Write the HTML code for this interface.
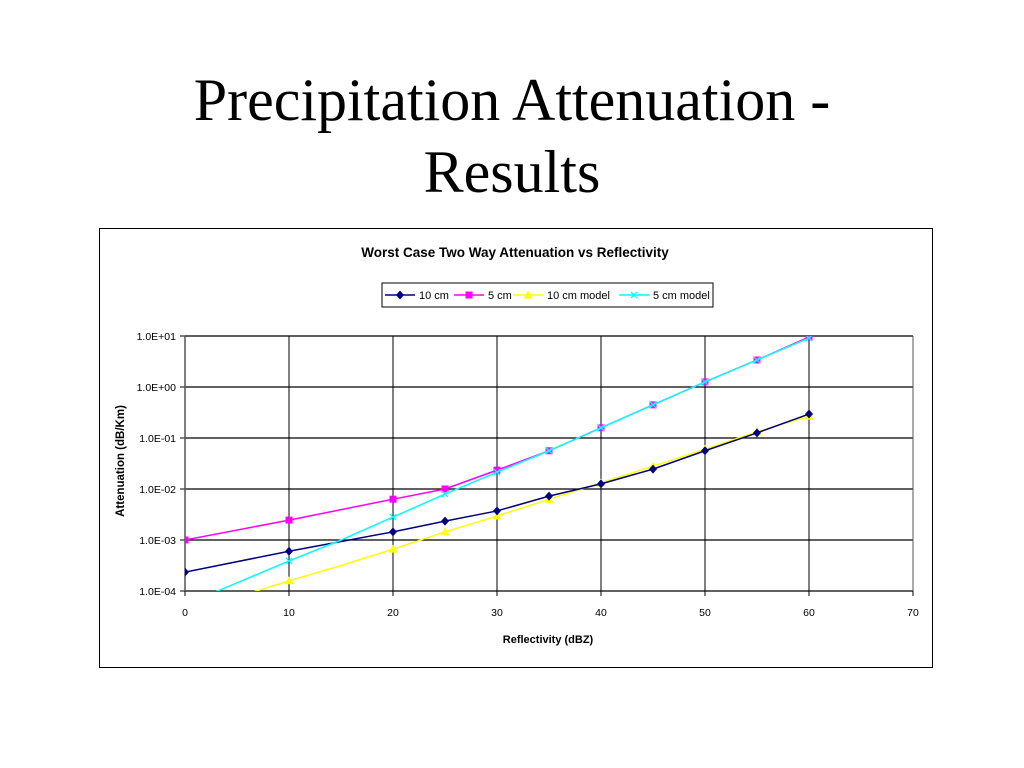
<!DOCTYPE html>
<html><head><meta charset="utf-8"><style>
body{margin:0;width:1024px;height:768px;background:#fff;overflow:hidden;font-family:"Liberation Sans",sans-serif}
#title{position:absolute;left:0;width:1024px;top:64px;text-align:center;font-family:"Liberation Serif",serif;font-size:60px;line-height:72px}
#box{position:absolute;left:99px;top:228px;width:832px;height:438px;border:1px solid #000}
</style></head><body>
<div id="title">Precipitation Attenuation -<br>Results</div>
<div id="box"></div>
<svg id="c" width="1024" height="768" style="position:absolute;left:0;top:0">
<defs><clipPath id="clip"><rect x="185" y="336" width="728" height="255"/></clipPath></defs>
</svg>
<script>
const xVals=[0,10,20,25,30,35,40,45,50,55,60];
const cm10=[-3.63,-3.22,-2.84,-2.63,-2.43,-2.14,-1.90,-1.61,-1.25,-0.90,-0.53];
const cm5=[-3.0,-2.61,-2.20,-2.0,-1.63,-1.25,-0.80,-0.35,0.10,0.53,0.98];
const modelX=[0,5,10,15,20,25,30,35,40,45,50,55,60];
const model10=[-4.44,-4.12,-3.80,-3.50,-3.18,-2.84,-2.53,-2.20,-1.88,-1.55,-1.22,-0.88,-0.57];
const model5=[-4.27,-3.84,-3.41,-3.0,-2.55,-2.10,-1.67,-1.25,-0.80,-0.35,0.10,0.53,0.96];
const xTicks=[0,10,20,30,40,50,60,70];
const yTicks=[1,0,-1,-2,-3,-4];
const yLabels=["1.0E+01","1.0E+00","1.0E-01","1.0E-02","1.0E-03","1.0E-04"];
const NS="http://www.w3.org/2000/svg",svg=document.getElementById('c');
const X=v=>185+v*(728/70), Y=v=>336+(1-v)*51;
function el(t,a,p){const e=document.createElementNS(NS,t);for(const k in a)e.setAttribute(k,a[k]);(p||svg).appendChild(e);return e;}
function tx(s,x,y,sz,anch,w){const e=el('text',{x:x,y:y,'font-size':sz,'text-anchor':anch||'middle','font-family':'Liberation Sans, sans-serif','font-weight':w||'normal'});e.textContent=s;return e;}
let t=tx("Worst Case Two Way Attenuation vs Reflectivity",515,257,13.5,'middle','bold');

yTicks.forEach((v,i)=>{const g=el('line',{x1:185,x2:913,y1:Y(v),y2:Y(v),stroke:'#000','stroke-width':1.3});

el('line',{x1:180,x2:185,y1:Y(v),y2:Y(v),stroke:'#000'});
const l=tx(yLabels[i],176,Y(v)+4,10.5,'end');});
xTicks.forEach(v=>{if(v>0){const g=el('line',{x1:X(v),x2:X(v),y1:336,y2:591,stroke:'#000','stroke-width':1});
}
el('line',{x1:X(v),x2:X(v),y1:591,y2:596,stroke:'#000'});
const l=tx(String(v),X(v),616,10.5);});
el('line',{x1:185,x2:185,y1:336,y2:591,stroke:'#555','stroke-width':1.5});
el('line',{x1:913,x2:913,y1:336,y2:591,stroke:'#555','stroke-width':1});
let xt=tx("Reflectivity (dBZ)",548,643,11,'middle','bold');
let yt=tx("Attenuation (dB/Km)",0,0,11.5,'middle','bold');yt.setAttribute('transform','translate(124,461) rotate(-90)');

const gp=el('g',{'clip-path':'url(#clip)'});
function marker(type,x,y,c,p){
 if(type==='d')return el('path',{d:`M${x} ${y-4.5}L${x+4} ${y}L${x} ${y+4.5}L${x-4} ${y}Z`,fill:c},p);
 if(type==='s')return el('rect',{x:x-3.5,y:y-3.5,width:7,height:7,fill:c},p);
 if(type==='t')return el('path',{d:`M${x} ${y-4.5}L${x+4.5} ${y+3.5}L${x-4.5} ${y+3.5}Z`,fill:c},p);
 return el('path',{d:`M${x-3} ${y-3}L${x+3} ${y+3}M${x+3} ${y-3}L${x-3} ${y+3}`,stroke:c,'stroke-width':1.3},p);}
function series(xs,ys,c,m,name,model){const g=el('g',{},gp);
 el('polyline',{points:xs.map((x,i)=>X(x)+','+Y(ys[i])).join(' '),fill:'none',stroke:c,'stroke-width':1.5},g);
 xs.forEach((x,i)=>{if(!model||(x>=10&&(x>=25||x%10===0))){const mk=marker(m,X(x),Y(ys[i]),c,g);}});}
series(modelX,model10,'#ffff00','t','series-10cm-model',true);
series(xVals,cm10,'#000080','d','series-10cm',false);
series(xVals,cm5,'#ff00ff','s','series-5cm',false);
series(modelX,model5,'#00ffff','x','series-5cm-model',true);
const lg=el('g',{});
el('rect',{x:382,y:283,width:331,height:24,fill:'#fff',stroke:'#000'},lg);
const items=[["10 cm",'#000080','d',385],["5 cm",'#ff00ff','s',454],["10 cm model",'#ffff00','t',513],["5 cm model",'#00ffff','x',619]];
items.forEach(([s,c,m,x])=>{const g=el('g',{},lg);
 el('line',{x1:x,x2:x+30,y1:295,y2:295,stroke:c,'stroke-width':1.5},g);marker(m,x+15,295,c,g);
 const l=tx(s,x+34,299,11,'start');g.appendChild(l);});
</script>
</body></html>
